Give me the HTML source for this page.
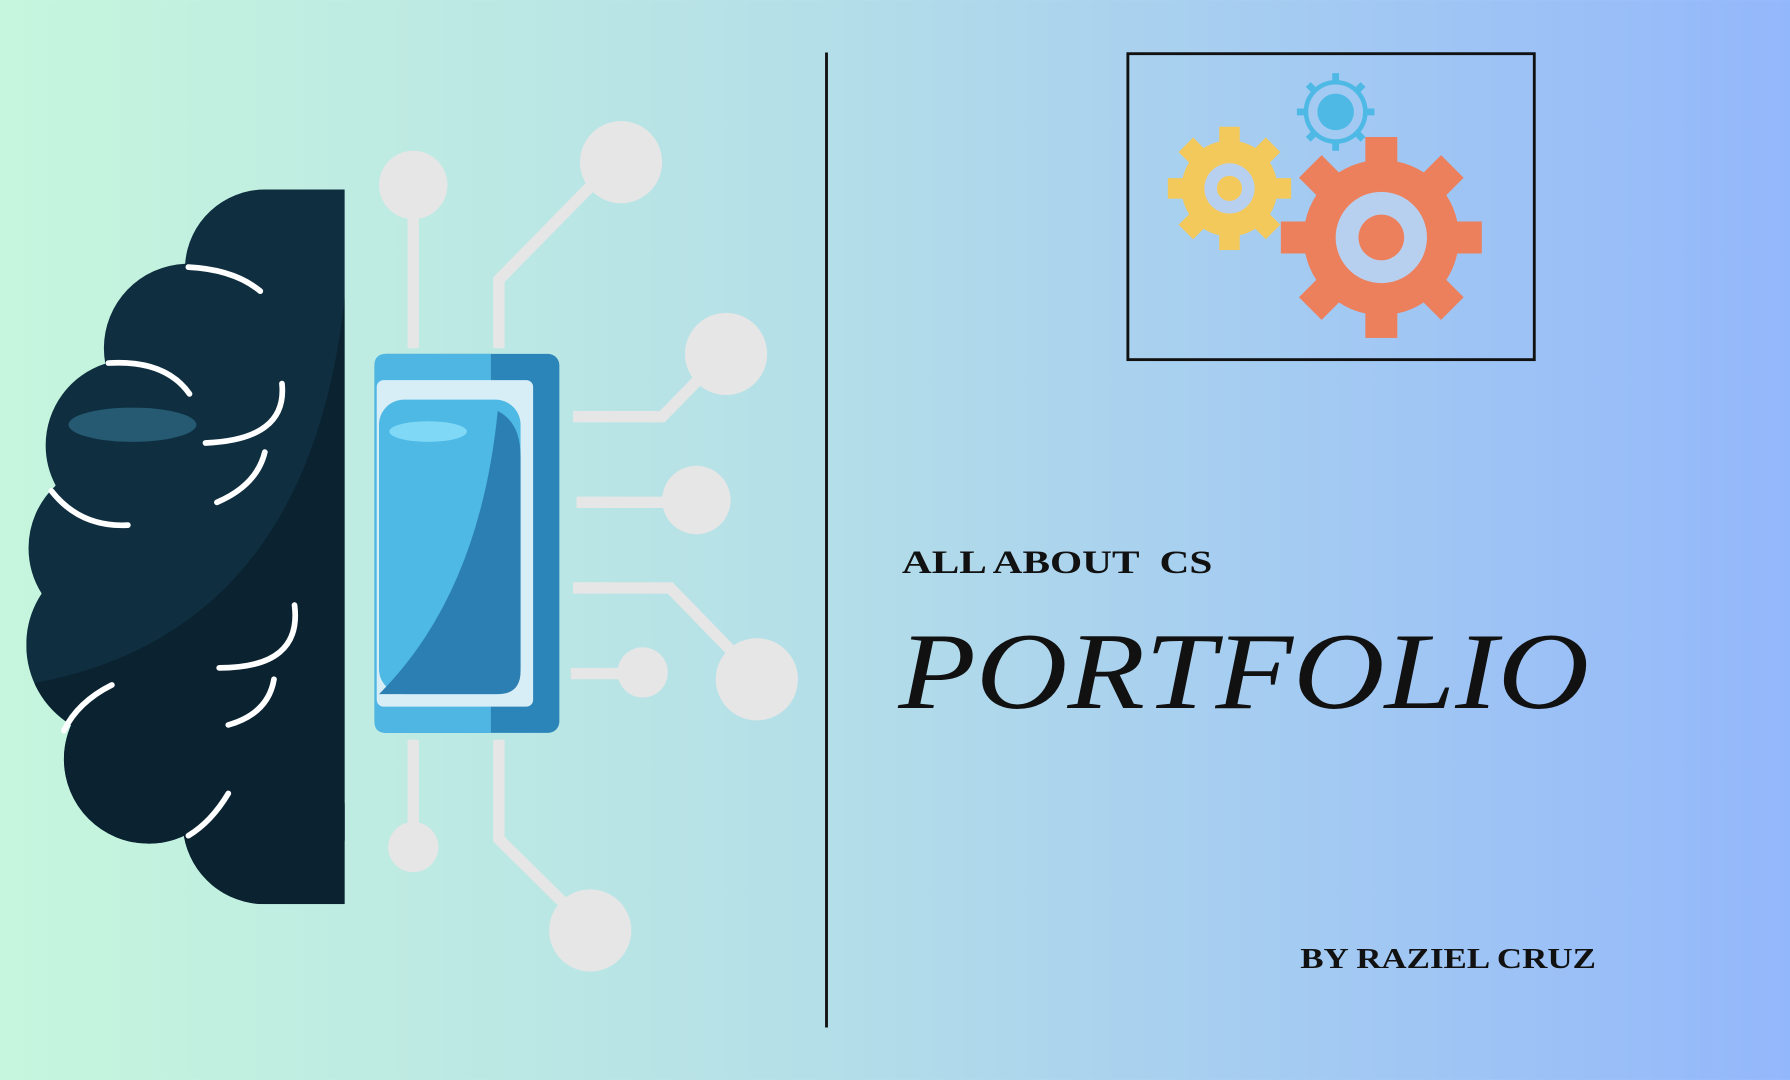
<!DOCTYPE html>
<html><head><style>
html,body{margin:0;padding:0;width:1790px;height:1080px;overflow:hidden}
svg{display:block}
</style></head><body>
<svg width="1790" height="1080" viewBox="0 0 1568 946" xmlns="http://www.w3.org/2000/svg">
<defs>
<linearGradient id="bg" x1="0" y1="0" x2="1" y2="0">
<stop offset="0" stop-color="#c6f6dd"/><stop offset="0.45" stop-color="#b5dfe8"/><stop offset="1" stop-color="#93b7fb"/>
</linearGradient>
<clipPath id="brain">
<circle cx="232" cy="236" r="70"/>
<circle cx="165" cy="305" r="74"/>
<circle cx="115" cy="390" r="75"/>
<circle cx="100" cy="480" r="75"/>
<circle cx="105" cy="565" r="82"/>
<circle cx="130" cy="665" r="74"/>
<circle cx="232" cy="720" r="72"/>
<polygon points="232,236 165,305 115,390 100,480 105,565 130,665 232,720 232,792 302,792 302,166 232,166"/>
</clipPath>
<clipPath id="half"><rect x="0" y="0" width="302" height="946"/></clipPath>
</defs>
<rect width="1568" height="946" fill="url(#bg)"/>
<!-- brain -->
<g clip-path="url(#half)">
<g clip-path="url(#brain)">
<rect x="0" y="150" width="310" height="660" fill="#0f2f40"/>
<path d="M302 260 Q270 560 20 600 L20 800 L302 800Z" fill="#0b2230"/>
</g>
</g>
<ellipse cx="116" cy="372" rx="56" ry="15" fill="#255a72"/>
<g fill="none" stroke="#fff" stroke-width="5" stroke-linecap="round">
<path d="M165 234 Q205 236 228 255"/>
<path d="M95 318 Q145 315 166 345"/>
<path d="M247 336 Q252 385 180 388"/>
<path d="M232 396 Q225 425 190 440"/>
<path d="M45 430 Q70 462 112 460"/>
<path d="M258 530 Q265 585 192 585"/>
<path d="M240 595 Q235 625 200 635"/>
<path d="M98 600 Q68 615 56 640"/>
<path d="M200 695 Q185 720 165 732"/>
</g>
<!-- circuit lines -->
<g fill="none" stroke="#e6e6e6" stroke-width="10">
<path d="M362 165 V305"/>
<path d="M437 305 V245 L540 140"/>
<path d="M502 365 H580 L632 312"/>
<path d="M505 440 H610"/>
<path d="M502 515 H587 L660 590"/>
<path d="M500 590 H560"/>
<path d="M362 648 V740"/>
<path d="M437 648 V735 L515 812"/>
</g>
<g fill="#e6e6e6">
<circle cx="362" cy="162" r="30"/>
<circle cx="544" cy="142" r="36"/>
<circle cx="636" cy="310" r="36"/>
<circle cx="610" cy="438" r="30"/>
<circle cx="663" cy="595" r="36"/>
<circle cx="563" cy="589" r="22"/>
<circle cx="362" cy="742" r="22"/>
<circle cx="517" cy="815" r="36"/>
</g>
<!-- chip -->
<rect x="328" y="310" width="162" height="332" rx="10" fill="#2b85b8"/>
<path d="M338 310 H430 V642 H338 Q328 642 328 632 V320 Q328 310 338 310Z" fill="#4fb6e4"/>
<rect x="330" y="333" width="137" height="286" rx="6" fill="#d8eef7"/>
<rect x="332" y="350" width="124" height="258" rx="22" fill="#4fb9e6"/>
<path d="M332 608 Q420 520 436 360 Q456 370 456 400 V588 Q456 608 436 608Z" fill="#2c7fb3"/>
<ellipse cx="375" cy="378" rx="34" ry="9" fill="#7fd8f5"/>
<!-- divider -->
<line x1="724" y1="46" x2="724" y2="900" stroke="#111" stroke-width="2.5"/>
<!-- gear box -->
<rect x="988" y="47" width="356" height="268" fill="none" stroke="#111" stroke-width="2.5"/>
<g transform="translate(1210,208)" fill="#ec7f5c">
<circle r="68"/>
<g><rect x="-14" y="-88" width="28" height="30"/><rect x="-14" y="58" width="28" height="30"/><rect x="-88" y="-14" width="30" height="28"/><rect x="58" y="-14" width="30" height="28"/></g>
<g transform="rotate(45)"><rect x="-14" y="-88" width="28" height="30"/><rect x="-14" y="58" width="28" height="30"/><rect x="-88" y="-14" width="30" height="28"/><rect x="58" y="-14" width="30" height="28"/></g>
<circle r="40" fill="#b8d0ef"/><circle r="20" fill="#ec7f5c"/>
</g>
<g transform="translate(1077,165)" fill="#f4c95c">
<circle r="42"/>
<g><rect x="-9" y="-54" width="18" height="20"/><rect x="-9" y="34" width="18" height="20"/><rect x="-54" y="-9" width="20" height="18"/><rect x="34" y="-9" width="20" height="18"/></g>
<g transform="rotate(45)"><rect x="-9" y="-54" width="18" height="20"/><rect x="-9" y="34" width="18" height="20"/><rect x="-54" y="-9" width="20" height="18"/><rect x="34" y="-9" width="20" height="18"/></g>
<circle r="22" fill="#b8d0ef"/><circle r="11" fill="#f4c95c"/>
</g>
<g transform="translate(1170,98)" fill="none" stroke="#4fb9e6" stroke-width="4">
<circle r="26"/><circle r="16" fill="#4fb9e6" stroke="none"/>
<g stroke-width="6"><path d="M0 -26 V-34 M0 26 V34 M-26 0 H-34 M26 0 H34 M18 18 L24 24 M-18 -18 L-24 -24 M18 -18 L24 -24 M-18 18 L-24 24"/></g>
</g>
<!-- text -->
<text x="790" y="502" font-family="Liberation Serif, serif" font-weight="bold" font-size="29" textLength="272" lengthAdjust="spacingAndGlyphs" fill="#111" xml:space="preserve">ALL ABOUT  CS</text>
<text x="787" y="620" font-family="Liberation Serif, serif" font-style="italic" font-size="96" textLength="605" lengthAdjust="spacingAndGlyphs" fill="#111">PORTFOLIO</text>
<text x="1139" y="848" font-family="Liberation Serif, serif" font-weight="bold" font-size="25" textLength="259" lengthAdjust="spacingAndGlyphs" fill="#111">BY RAZIEL CRUZ</text>
</svg>
</body></html>
